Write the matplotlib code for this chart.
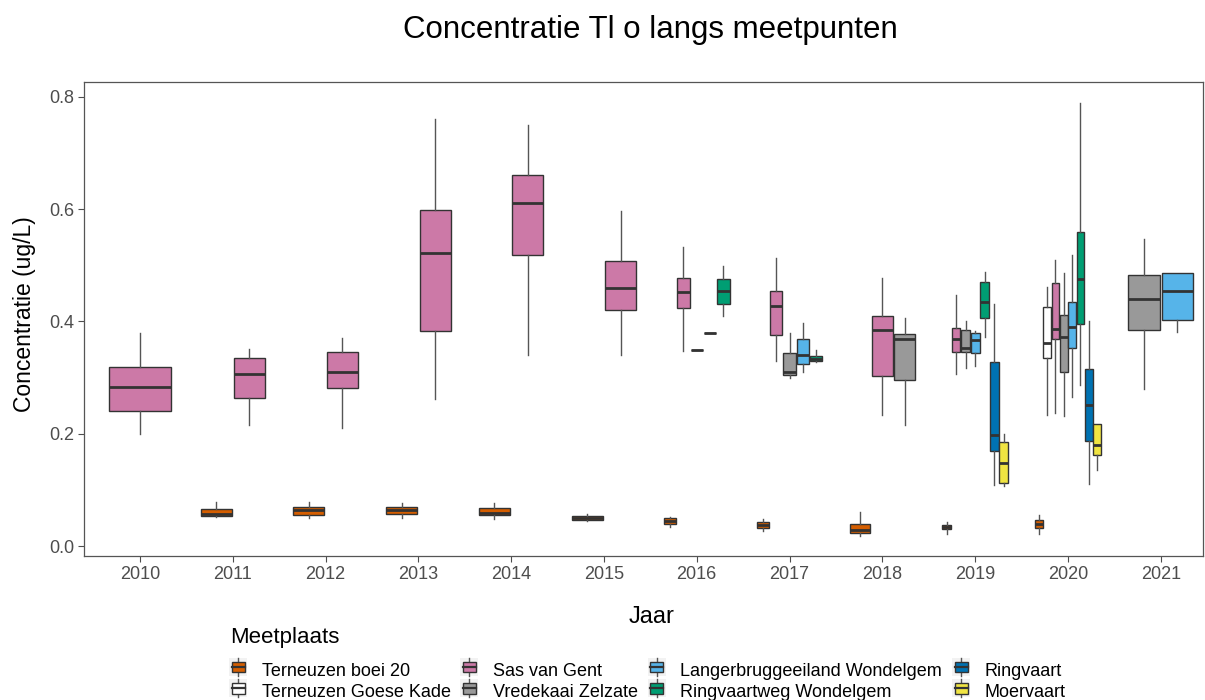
import matplotlib
matplotlib.use("Agg")
import matplotlib.pyplot as plt
from matplotlib.legend_handler import HandlerBase
from matplotlib.patches import Rectangle
from matplotlib.lines import Line2D

plt.rcParams["font.family"] = ["Liberation Sans", "DejaVu Sans"]

# Meetplaatsen in legend / dodge order
sites = [
    "Terneuzen boei 20",
    "Terneuzen Goese Kade",
    "Sas van Gent",
    "Vredekaai Zelzate",
    "Langerbruggeeiland Wondelgem",
    "Ringvaartweg Wondelgem",
    "Ringvaart",
    "Moervaart",
]
colors = ["#D55E00", "#FFFFFF", "#CC79A7", "#999999",
          "#56B4E9", "#009E73", "#0072B2", "#F0E442"]

# per site: years and (whisker low, q1, median, q3, whisker high)
boei20_years = [2011, 2012, 2013, 2014, 2015, 2016, 2017, 2018, 2019, 2020]
boei20 = [
    (0.051, 0.054, 0.057, 0.066, 0.078),
    (0.050, 0.055, 0.065, 0.070, 0.078),
    (0.050, 0.057, 0.064, 0.069, 0.076),
    (0.048, 0.055, 0.059, 0.067, 0.076),
    (0.045, 0.046, 0.049, 0.053, 0.057),
    (0.033, 0.039, 0.044, 0.049, 0.051),
    (0.027, 0.032, 0.038, 0.042, 0.048),
    (0.018, 0.023, 0.029, 0.040, 0.061),
    (0.022, 0.030, 0.034, 0.038, 0.042),
    (0.022, 0.032, 0.039, 0.047, 0.055),
]

goese_kade_years = [2020]
goese_kade = [
    (0.233, 0.335, 0.362, 0.425, 0.461),
]

sas_van_gent_years = [2010, 2011, 2012, 2013, 2014, 2015, 2016, 2017,
                      2018, 2019, 2020]
sas_van_gent = [
    (0.200, 0.240, 0.284, 0.319, 0.379),
    (0.216, 0.263, 0.307, 0.335, 0.351),
    (0.211, 0.282, 0.309, 0.346, 0.370),
    (0.262, 0.382, 0.521, 0.599, 0.761),
    (0.341, 0.518, 0.611, 0.660, 0.749),
    (0.340, 0.420, 0.460, 0.508, 0.597),
    (0.348, 0.423, 0.453, 0.478, 0.532),
    (0.330, 0.375, 0.427, 0.454, 0.513),
    (0.233, 0.302, 0.384, 0.410, 0.478),
    (0.306, 0.345, 0.369, 0.389, 0.447),
    (0.237, 0.368, 0.386, 0.468, 0.510),
]

vredekaai_years = [2016, 2017, 2018, 2019, 2020, 2021]
vredekaai = [
    (0.349, 0.349, 0.349, 0.349, 0.349),
    (0.300, 0.305, 0.309, 0.344, 0.379),
    (0.216, 0.296, 0.369, 0.378, 0.406),
    (0.317, 0.345, 0.353, 0.384, 0.401),
    (0.231, 0.309, 0.372, 0.412, 0.486),
    (0.280, 0.385, 0.439, 0.483, 0.547),
]

langerbrugge_years = [2016, 2017, 2019, 2020, 2021]
langerbrugge = [
    (0.379, 0.379, 0.379, 0.379, 0.379),
    (0.310, 0.324, 0.340, 0.369, 0.398),
    (0.320, 0.343, 0.366, 0.379, 0.383),
    (0.266, 0.352, 0.390, 0.434, 0.518),
    (0.381, 0.403, 0.454, 0.486, 0.486),
]

ringvaartweg_years = [2016, 2017, 2019, 2020]
ringvaartweg = [
    (0.410, 0.431, 0.454, 0.476, 0.498),
    (0.327, 0.329, 0.333, 0.339, 0.349),
    (0.372, 0.406, 0.435, 0.471, 0.488),
    (0.287, 0.395, 0.475, 0.559, 0.789),
]

ringvaart_years = [2019, 2020]
ringvaart = [
    (0.109, 0.170, 0.197, 0.328, 0.431),
    (0.110, 0.187, 0.251, 0.315, 0.401),
]

moervaart_years = [2019, 2020]
moervaart = [
    (0.107, 0.112, 0.148, 0.186, 0.199),
    (0.135, 0.162, 0.179, 0.217, 0.217),
]

site_years = [boei20_years, goese_kade_years, sas_van_gent_years,
              vredekaai_years, langerbrugge_years, ringvaartweg_years,
              ringvaart_years, moervaart_years]
site_stats = [boei20, goese_kade, sas_van_gent, vredekaai,
              langerbrugge, ringvaartweg, ringvaart, moervaart]

years = list(range(2010, 2022))

EDGE = "#333333"
WHISK = "#555555"

fig = plt.figure(figsize=(12.05, 7.0), dpi=100)
ax = fig.add_axes([0.0701, 0.2057, 0.9282, 0.6776])

# dodge: boxes of one year share a total width, in site order
total = 0.72
for year in years:
    present = [i for i in range(len(sites)) if year in site_years[i]]
    n = len(present)
    slot = total / n
    for k, i in enumerate(present):
        lo, q1, med, q3, hi = site_stats[i][site_years[i].index(year)]
        pos = year - total / 2 + slot * (k + 0.5)
        ax.bxp(
            [dict(whislo=lo, q1=q1, med=med, q3=q3, whishi=hi, fliers=[])],
            positions=[pos],
            widths=[slot * 0.93],
            patch_artist=True,
            showfliers=False,
            showcaps=False,
            boxprops=dict(facecolor=colors[i], edgecolor=EDGE, linewidth=1.0),
            medianprops=dict(color=EDGE, linewidth=2.0),
            whiskerprops=dict(color=WHISK, linewidth=1.0),
            manage_ticks=False,
        )

ax.set_xlim(2009.402, 2021.455)
ax.set_ylim(-0.0178, 0.8268)
ax.set_xticks(years)
ax.set_xticklabels([str(y) for y in years])
ax.set_yticks([0.0, 0.2, 0.4, 0.6, 0.8])
ax.set_yticklabels(["0.0", "0.2", "0.4", "0.6", "0.8"])
ax.tick_params(colors="#4d4d4d", labelsize=13, length=4, width=0.8,
               labelcolor="#4d4d4d", pad=3)
for s in ax.spines.values():
    s.set_color("#555555")
    s.set_linewidth(0.9)

ax.set_xlabel("Jaar", fontsize=17, va="center")
ax.xaxis.set_label_coords(0.507, -0.1286)
ax.set_ylabel("Concentratie (ug/L)", fontsize=16.5, va="center")
ax.yaxis.set_label_coords(-0.0532, 0.51)
fig.text(0.54, 0.957, "Concentratie Tl o langs meetpunten",
         ha="center", va="center", fontsize=22.5)


class BoxKey(HandlerBase):
    def create_artists(self, legend, orig, xd, yd, w, h, fs, trans):
        c = orig.get_facecolor()
        bw = w * 0.72
        x0 = xd + (w - bw) / 2
        bg = Rectangle((xd, yd - h * 0.1), w, h * 1.2, facecolor="#f2f2f2",
                       edgecolor="none", transform=trans)
        box = Rectangle((x0, yd + h * 0.15), bw, h * 0.7, facecolor=c,
                        edgecolor=EDGE, linewidth=1.0, transform=trans)
        med = Line2D([x0, x0 + bw], [yd + h / 2] * 2, color=EDGE, lw=1.6,
                     transform=trans)
        wl = Line2D([xd + w / 2] * 2, [yd - h * 0.1, yd + h * 0.15],
                    color=WHISK, lw=1.0, transform=trans)
        wh = Line2D([xd + w / 2] * 2, [yd + h * 0.85, yd + h * 1.1],
                    color=WHISK, lw=1.0, transform=trans)
        return [bg, wl, wh, box, med]


fig.text(230 / 1205, 1 - 637 / 700, "Meetplaats", ha="left", va="center",
         fontsize=16)

handles = [Rectangle((0, 0), 1, 1, facecolor=c) for c in colors]
leg = fig.legend(
    handles, sites,
    handler_map={Rectangle: BoxKey()},
    loc="upper left",
    bbox_to_anchor=(229 / 1205, 1 - 662 / 700),
    ncol=4,
    frameon=False,
    fontsize=13,
    handlelength=1.0,
    handleheight=0.9,
    handletextpad=0.8,
    labelspacing=0.2,
    columnspacing=0.55,
    borderaxespad=0,
    borderpad=0,
)

fig.savefig("out.png", dpi=100)
